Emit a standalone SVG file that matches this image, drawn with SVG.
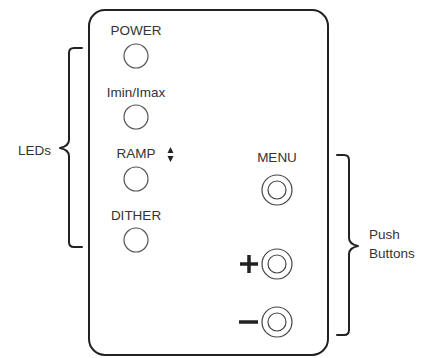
<svg xmlns="http://www.w3.org/2000/svg" width="425" height="358" viewBox="0 0 425 358">
<style>
text{font-family:"Liberation Sans",Arial,sans-serif;font-size:13.5px;fill:#333}
.c{text-anchor:middle}
.led{fill:none;stroke:#555;stroke-width:1.2}
.btn{fill:none;stroke:#444;stroke-width:1.2}
.line{fill:none;stroke:#222;stroke-width:2;stroke-linecap:round;stroke-linejoin:round}
.sym{fill:none;stroke:#222;stroke-width:3.5}
</style>
<rect width="425" height="358" fill="#fff"/>
<g id="panel"><rect x="89" y="10" width="239" height="345" rx="16" class="line"/></g>
<g id="led-power"><text x="136" y="35" class="c">POWER</text><circle cx="136" cy="56" r="12" class="led"/></g>
<g id="led-imin"><text x="136" y="97" class="c">Imin/Imax</text><circle cx="136" cy="117" r="12" class="led"/></g>
<g id="led-ramp"><text x="136" y="158" class="c">RAMP</text><path d="M167.5 153 L170.5 147 L173.5 153 Z M167.5 156 L170.5 162 L173.5 156 Z" fill="#222"/><circle cx="136" cy="179" r="12" class="led"/></g>
<g id="led-dither"><text x="136" y="220" class="c">DITHER</text><circle cx="136" cy="240" r="12" class="led"/></g>
<g id="btn-menu"><text x="277" y="162" class="c">MENU</text><circle cx="277" cy="190" r="15" class="btn"/><circle cx="277" cy="190" r="9" class="btn"/></g>
<g id="btn-plus"><path d="M240 264 H258 M249 255 V273" class="sym"/><circle cx="277" cy="264" r="15" class="btn"/><circle cx="277" cy="264" r="9" class="btn"/></g>
<g id="btn-minus"><path d="M239 322 H258" class="sym"/><circle cx="277" cy="322" r="15" class="btn"/><circle cx="277" cy="322" r="9" class="btn"/></g>
<g id="connectors">
<path class="line" d="M82 48 H74 Q69 48 69 53 V140 Q69 146 60 148 Q69 150 69 156 V242 Q69 247 74 247 H82"/>
<path class="line" d="M337 155 H344 Q349 155 349 160 V238 Q349 244 358 246 Q349 248 349 254 V330 Q349 335 344 335 H337"/>
</g>
<g id="label-leds"><text x="18" y="155">LEDs</text></g>
<g id="label-push"><text x="369" y="239">Push</text><text x="369" y="258">Buttons</text></g>
</svg>
